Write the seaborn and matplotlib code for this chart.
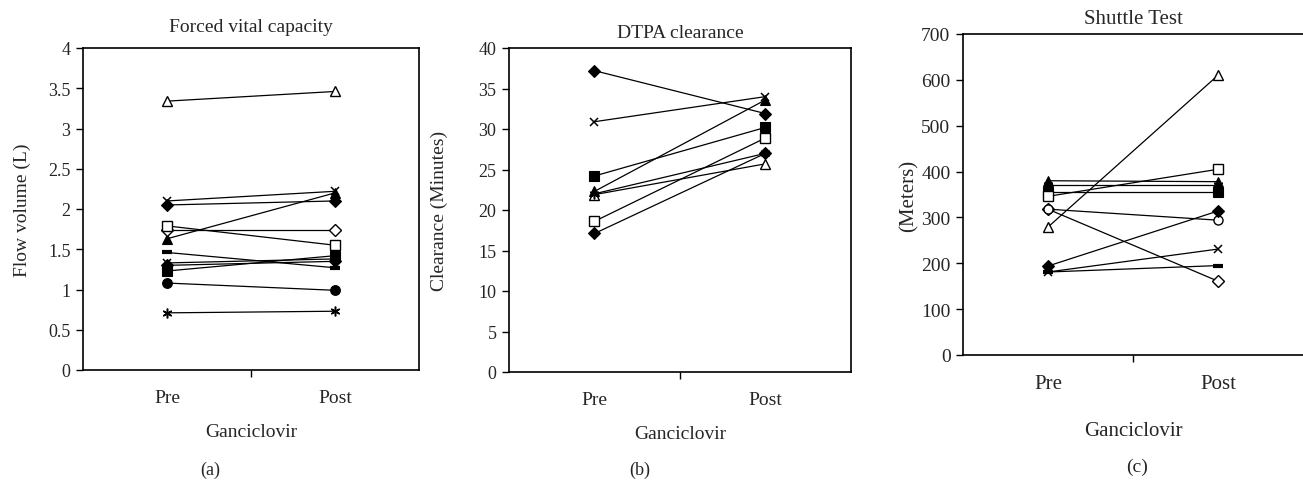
import numpy as np
import matplotlib
matplotlib.use("Agg")
import matplotlib.pyplot as plt
import seaborn as sns

# ---------------------------------------------------------------------------
# Data (pre / post ganciclovir, one line per patient)
periods = ["Pre", "Post"]

fvc_pre = [2.05, 1.23, 1.63, 2.10, 0.71, 1.08, 1.30, 1.46, 1.74, 1.79, 3.34, 1.33]
fvc_post = [2.10, 1.42, 2.20, 2.22, 0.73, 0.99, 1.35, 1.27, 1.74, 1.55, 3.46, 1.38]
fvc_marks = ["diamond", "square", "triangle", "x", "star", "circle", "diamond",
             "dash", "odiamond", "osquare", "otriangle", "x"]

dtpa_pre = [37.2, 30.9, 24.2, 22.3, 18.6, 17.1, 21.9, 22.0]
dtpa_post = [31.9, 34.0, 30.2, 33.6, 28.9, 27.0, 25.7, 27.0]
dtpa_marks = ["diamond", "x", "square", "triangle", "osquare", "diamond",
              "otriangle", "star"]

shuttle_pre = [380, 370, 355, 346, 318, 318, 194, 181, 181, 279]
shuttle_post = [378, 370, 355, 405, 161, 294, 314, 231, 195, 610]
shuttle_marks = ["triangle", "star", "square", "osquare", "odiamond", "ocircle",
                 "diamond", "x", "dash", "otriangle"]

# marker shape, face colour, size, edge width
styles = {
    "diamond": ("D", "black", 6.5, 0.8),
    "square": ("s", "black", 6.5, 0.8),
    "triangle": ("^", "black", 7.5, 0.8),
    "x": ("x", "black", 5.5, 1.1),
    "star": ((6, 2, 0), "black", 7, 1.1),
    "circle": ("o", "black", 7, 0.8),
    "dash": ("_", "black", 7, 3.0),
    "odiamond": ("D", "white", 6.5, 1.0),
    "osquare": ("s", "white", 6.5, 1.0),
    "otriangle": ("^", "white", 7.5, 1.0),
    "ocircle": ("o", "white", 6.5, 1.0),
}

sns.set_style("white")
plt.rcParams["font.family"] = ["Liberation Serif", "DejaVu Serif"]

fig = plt.figure(figsize=(13.03, 4.81), dpi=100)
W, H = 1303, 481


def add_axes(left, right, top, bottom):
    return fig.add_axes([left / W, 1 - bottom / H, (right - left) / W,
                         (bottom - top) / H])


def draw_panel(ax, pre, post, marks, ylim, ystep, ylabel, title, tag,
               tick_fs, lab_fs, ylabelpad, titlepad, tagx, tagy):
    xs = np.arange(len(periods))
    for p, q, m in zip(pre, post, marks):
        mk, fc, ms, mew = styles[m]
        sns.lineplot(x=xs, y=[p, q], ax=ax, color="black", linewidth=0.9,
                     marker=mk, markersize=ms, markerfacecolor=fc,
                     markeredgecolor="black", markeredgewidth=mew,
                     clip_on=False)
    ax.set_xlim(-0.5, len(periods) - 0.5)
    ax.set_ylim(*ylim)
    ax.set_yticks(np.arange(ylim[0], ylim[1] + ystep / 2, ystep))
    ax.set_yticklabels([f"{v:g}" for v in ax.get_yticks()], fontsize=tick_fs)
    ax.set_xticks([0.5])
    ax.set_xticklabels([""])
    ax.set_xticks(xs, minor=True)
    ax.set_xticklabels(periods, minor=True, fontsize=lab_fs)
    ax.tick_params(axis="x", which="major", length=5, width=1, direction="out",
                   bottom=True, color="black")
    ax.tick_params(axis="x", which="minor", length=0, pad=14)
    ax.tick_params(axis="y", length=5, width=1, direction="out", left=True,
                   color="black", pad=4)
    for s in ax.spines.values():
        s.set_color("black")
        s.set_linewidth(1.2)
    ax.set_xlabel("Ganciclovir", fontsize=lab_fs, labelpad=12)
    ax.set_ylabel(ylabel, fontsize=lab_fs, labelpad=ylabelpad)
    ax.set_title(title, fontsize=lab_fs, pad=titlepad)
    fig.text(tagx / W, 1 - tagy / H, tag, fontsize=lab_fs - 1, ha="center",
             va="center")


ax_a = add_axes(83, 419, 49, 371)
draw_panel(ax_a, fvc_pre, fvc_post, fvc_marks, (0, 4), 0.5,
           "Flow volume (L)", "Forced vital capacity", "(a)",
           13, 14, 12, 12, 210, 470)

ax_b = add_axes(509, 851, 49, 373)
draw_panel(ax_b, dtpa_pre, dtpa_post, dtpa_marks, (0, 40), 5,
           "Clearance (Minutes)", "DTPA clearance", "(b)",
           13, 14, 22, 8, 640, 470)

ax_c = add_axes(963, 1303, 35, 356)
draw_panel(ax_c, shuttle_pre, shuttle_post, shuttle_marks, (0, 700), 100,
           "(Meters)", "Shuttle Test", "(c)",
           14, 15, 2, 8, 1137, 467)
ax_c.spines["right"].set_visible(False)
ax_c.xaxis.labelpad = 20

fig.savefig("out.png", dpi=100)
